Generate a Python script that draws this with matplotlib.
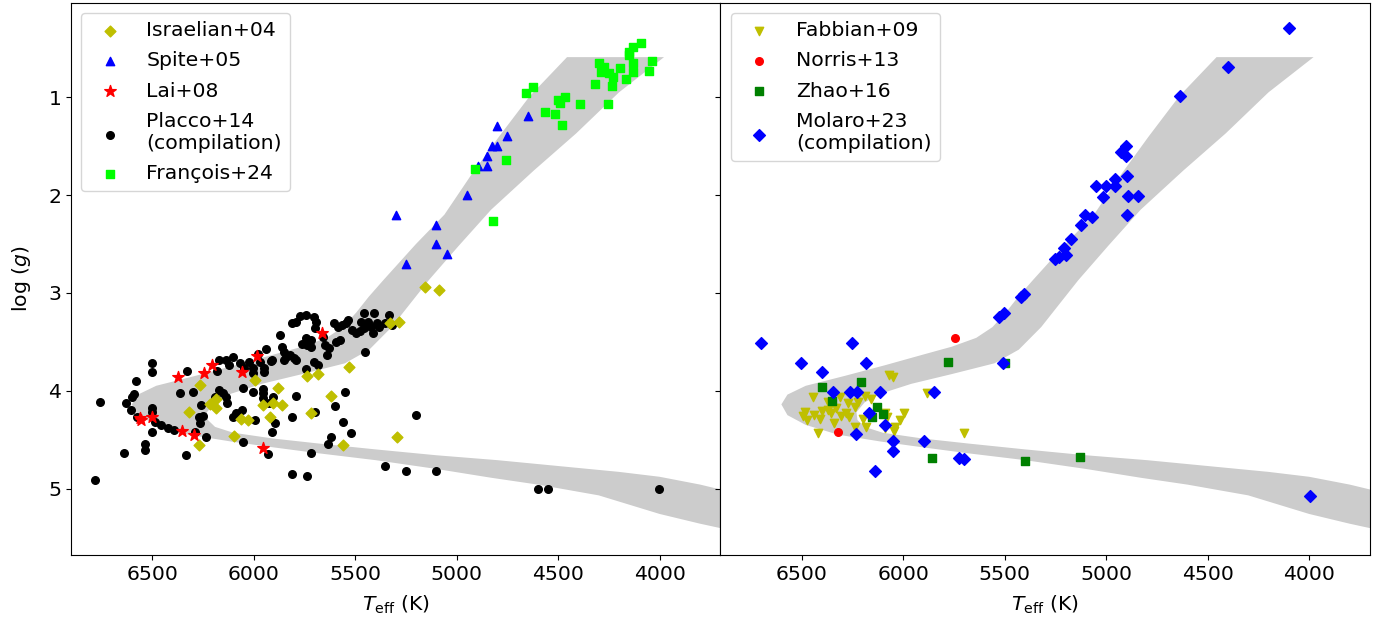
import numpy as np
import matplotlib
matplotlib.use("Agg")
import matplotlib.pyplot as plt

# ---------------- data ----------------
# Isochrone band: outer edge and inner edge (Teff, logg)
band_outer_T = [4456, 4640, 4790, 4930, 5060, 5200, 5361, 5433, 5494, 5560, 5640, 5760, 5900,
                6090, 6290, 6480, 6570, 6600, 6570, 6480, 6320, 6110, 5900, 5680, 5400, 5100,
                4830, 4600, 4300, 4000, 3800, 3600]
band_outer_g = [0.59, 0.99, 1.40, 1.80, 2.20, 2.50, 2.87, 3.04, 3.20, 3.35, 3.46, 3.55, 3.63,
                3.74, 3.85, 3.95, 4.04, 4.14, 4.25, 4.35, 4.45, 4.52, 4.58, 4.64, 4.71, 4.80,
                4.89, 4.96, 5.07, 5.26, 5.36, 5.45]
band_inner_T = [3978, 4200, 4411, 4620, 4830, 4990, 5137, 5240, 5320, 5430, 5550, 5760, 5960,
                6110, 6190, 6230, 6225, 6190, 6100, 5900, 5680, 5400, 5100, 4800, 4500, 4200,
                4000, 3800, 3600]
band_inner_g = [0.59, 0.95, 1.37, 1.75, 2.15, 2.52, 2.87, 3.14, 3.35, 3.58, 3.72, 3.83, 3.93,
                4.03, 4.12, 4.22, 4.30, 4.37, 4.43, 4.49, 4.54, 4.60, 4.66, 4.71, 4.77, 4.83,
                4.88, 4.96, 5.06]

# Left panel
israelian_T = [5155, 5085, 5327, 5282, 5529, 5735, 5682, 5995, 6265, 5878, 5621, 6185, 6213, 6185,
               5952, 5905, 5862, 6320, 5715, 6062, 6030, 5917, 6097, 5296, 6267, 5562]
israelian_g = [2.936, 2.97, 3.311, 3.294, 3.754, 3.846, 3.826, 3.894, 3.941, 3.972, 4.057, 4.088,
               4.136, 4.18, 4.146, 4.129, 4.146, 4.214, 4.224, 4.286, 4.30, 4.272, 4.463, 4.477,
               4.555, 4.555]

spite_T = [4648, 4799, 4750, 4824, 4799, 4848, 4897, 4848, 4951, 5300, 5102, 5102, 5049, 5249]
spite_g = [1.19, 1.29, 1.395, 1.498, 1.498, 1.60, 1.70, 1.70, 2.00, 2.203, 2.305, 2.503, 2.605, 2.708]

lai_T = [5664, 5985, 6058, 6205, 6246, 6373, 6553, 6561, 6502, 6352, 6295, 5954]
lai_g = [3.406, 3.645, 3.812, 3.737, 3.822, 3.856, 4.30, 4.28, 4.265, 4.408, 4.453, 4.589]

placco_T = [6755, 6781, 6641, 6536, 6536, 6502, 6502, 6579, 6598, 6587, 6630, 6604, 6573, 6502,
            6502, 6485, 6455, 6424, 6393, 6502, 6332, 6361, 6301, 6328, 6258, 6271, 6250, 6264,
            6291, 6236, 6169, 6138, 6103, 6189, 6169, 6152, 6138, 6132, 6103, 6087, 6056, 6050,
            6066, 6046, 6050, 6001, 6005, 6005, 6025, 5995, 5968, 5948, 5948, 5940, 5952, 5954,
            5952, 5923, 5903, 5911, 5915, 5893, 5909, 5927, 5872, 5862, 5852, 5842, 5821, 5801,
            5789, 5852, 5811, 5790, 5770, 5744, 5790, 5813, 5813, 5739, 5743, 5743, 5719, 5739,
            5719, 5703, 5694, 5698, 5703, 5682, 5698, 5719, 5647, 5627, 5637, 5602, 5586, 5566,
            5545, 5596, 5576, 5600, 5562, 5621, 5633, 5551, 5519, 5535, 5515, 5494, 5478, 5457,
            5457, 5406, 5437, 5423, 5392, 5382, 5331, 5412, 5449, 5351, 5320, 5198, 5351, 5249,
            5102, 4599, 4550, 4003, 6180, 6120, 5980, 5760, 5660, 5470]
placco_g = [4.112, 4.913, 4.633, 4.545, 4.606, 3.713, 3.812, 3.901, 4.061, 4.037, 4.129, 4.197,
            4.265, 4.18, 4.214, 4.316, 4.35, 4.385, 4.402, 4.419, 4.657, 4.027, 4.017, 3.795,
            4.146, 4.265, 4.258, 4.333, 4.419, 4.47, 3.686, 3.686, 3.659, 4.061, 3.993, 4.027,
            4.061, 4.129, 4.265, 4.231, 4.197, 4.521, 3.72, 3.771, 3.976, 4.01, 3.822, 3.771,
            3.703, 4.299, 3.703, 3.771, 3.805, 3.573, 3.986, 4.02, 4.078, 4.129, 4.061, 3.686,
            3.70, 4.333, 4.419, 4.647, 3.43, 3.55, 3.601, 3.652, 3.635, 3.669, 3.686, 3.686,
            3.311, 3.294, 3.233, 3.226, 4.054, 4.265, 4.852, 4.872, 3.781, 3.464, 3.481, 3.532,
            3.556, 3.243, 3.294, 3.362, 3.703, 3.737, 4.214, 4.64, 3.532, 3.567, 3.635, 3.311,
            3.345, 3.328, 3.311, 3.498, 3.481, 4.156, 4.316, 4.47, 4.545, 4.017, 4.436, 3.277,
            3.38, 3.406, 3.386, 3.362, 3.209, 3.202, 3.294, 3.345, 3.311, 3.345, 3.226, 3.413,
            3.608, 3.304, 3.328, 4.245, 4.766, 4.817, 4.817, 5.0, 5.0, 5.0, 3.80, 3.74, 3.62,
            3.52, 3.45, 3.30]

francois_T = [4090, 4131, 4152, 4152, 4035, 4297, 4276, 4131, 4193, 4289, 4248, 4227, 4131, 4166,
              4054, 4317, 4235, 4660, 4626, 4468, 4501, 4493, 4393, 4254, 4564, 4517, 4481, 4759,
              4908, 4820]
francois_g = [0.441, 0.482, 0.533, 0.567, 0.629, 0.646, 0.687, 0.646, 0.697, 0.738, 0.755, 0.789,
              0.738, 0.816, 0.731, 0.864, 0.884, 0.959, 0.898, 0.993, 1.027, 1.061, 1.072, 1.065,
              1.147, 1.167, 1.283, 1.641, 1.736, 2.261]

# Right panel
fabbian_T = [6069, 6048, 5882, 6443, 6370, 6312, 6270, 6235, 6221, 6189, 6156, 6484, 6494, 6474,
             6438, 6409, 6401, 6370, 6356, 6329, 6308, 6281, 6266, 6339, 6418, 6235, 6183, 6198,
             6090, 6079, 6038, 6044, 6017, 5994, 6090, 5700]
fabbian_g = [3.839, 3.856, 4.027, 4.068, 4.112, 4.061, 4.129, 4.163, 4.112, 4.051, 4.085, 4.214,
             4.258, 4.299, 4.248, 4.293, 4.204, 4.197, 4.224, 4.18, 4.258, 4.231, 4.265, 4.333,
             4.436, 4.368, 4.368, 4.293, 4.231, 4.272, 4.368, 4.408, 4.299, 4.231, 4.385, 4.436]

norris_T = [5745, 6320]
norris_g = [3.458, 4.425]

zhao_T = [5779, 6401, 6210, 6351, 6131, 6100, 6152, 5860, 5401, 5129, 5496]
zhao_g = [3.71, 3.962, 3.911, 4.102, 4.163, 4.235, 4.265, 4.691, 4.719, 4.678, 3.713]

molaro_T = [4098, 4399, 4637, 4903, 4928, 4901, 4899, 5052, 5000, 4955, 4955, 5015, 4890, 4845,
            4899, 5102, 5069, 5125, 5171, 5208, 5198, 5254, 5233, 5405, 5417, 5505, 5530, 6702,
            6250, 6501, 6181, 6401, 5509, 6345, 6262, 6225, 6113, 5849, 6169, 6088, 6231, 6048,
            5895, 6050, 5725, 5702, 6140, 3996]
molaro_g = [0.288, 0.693, 0.986, 1.494, 1.556, 1.597, 1.801, 1.903, 1.903, 1.835, 1.903, 2.016,
            2.006, 2.006, 2.203, 2.203, 2.220, 2.306, 2.452, 2.544, 2.612, 2.656, 2.629, 3.011,
            3.045, 3.202, 3.25, 3.509, 3.509, 3.713, 3.713, 3.812, 3.713, 4.01, 4.01, 4.01, 4.01,
            4.013, 4.224, 4.354, 4.446, 4.517, 4.517, 4.616, 4.691, 4.698, 4.821, 5.073]

xticks = [6500, 6000, 5500, 5000, 4500, 4000]
yticks = [1, 2, 3, 4, 5]

# ---------------- plot ----------------
plt.rcParams['font.size'] = 14.7
fig, (ax1, ax2) = plt.subplots(1, 2, sharey=True, figsize=(13.91, 6.32), dpi=100)
fig.subplots_adjust(left=0.0510, right=0.9849, top=0.9955, bottom=0.1218, wspace=0)

band_T = band_outer_T + band_inner_T[::-1]
band_g = band_outer_g + band_inner_g[::-1]
for ax in (ax1, ax2):
    ax.fill(band_T, band_g, color='#cccccc', lw=0, zorder=1)

ax1.scatter(israelian_T, israelian_g, marker='D', s=30, c='y', label='Israelian+04', zorder=3)
ax1.scatter(spite_T, spite_g, marker='^', s=36, c='b', label='Spite+05', zorder=3)
ax1.scatter(lai_T, lai_g, marker='*', s=75, c='r', label='Lai+08', zorder=4)
ax1.scatter(placco_T, placco_g, marker='o', s=30, c='k', label='Placco+14\n(compilation)', zorder=2)
ax1.scatter(francois_T, francois_g, marker='s', s=30, c='lime', label='François+24', zorder=3)

ax2.scatter(fabbian_T, fabbian_g, marker='v', s=36, c='y', label='Fabbian+09', zorder=2)
ax2.scatter(norris_T, norris_g, marker='o', s=30, c='r', label='Norris+13', zorder=3)
ax2.scatter(zhao_T, zhao_g, marker='s', s=30, c='g', label='Zhao+16', zorder=3)
ax2.scatter(molaro_T, molaro_g, marker='D', s=36, c='b', label='Molaro+23\n(compilation)', zorder=4)

for ax in (ax1, ax2):
    ax.set_xlim(6900, 3700)
    ax.set_xticks(xticks)
    ax.set_xlabel(r'$T_{\rm eff}$ (K)', labelpad=7)
    ax.legend(loc='upper left', labelspacing=0.55)
ax1.set_ylim(5.68, 0.035)
ax1.set_yticks(yticks)
ax1.set_ylabel(r'log ($g$)', labelpad=11)

fig.savefig('out.png', dpi=100)
